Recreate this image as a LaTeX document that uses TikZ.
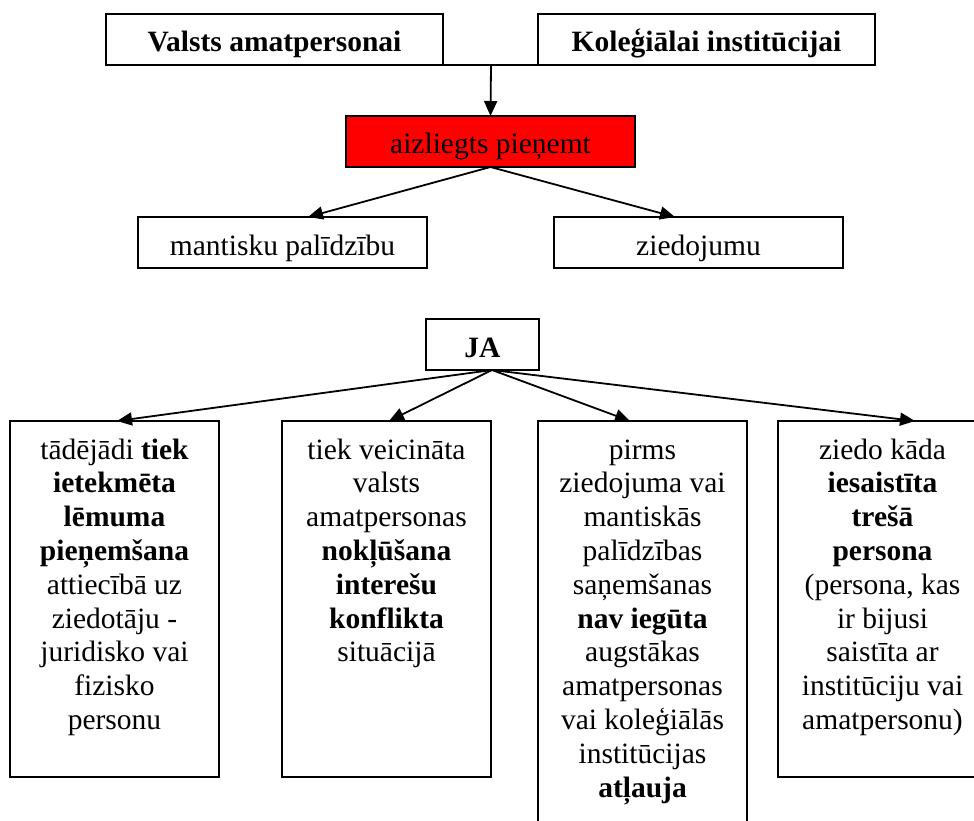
\documentclass[tikz,border=0pt]{standalone}
\usepackage{fontspec}
\setmainfont{Liberation Serif}
\usetikzlibrary{arrows.meta}
\begin{document}
\begin{tikzpicture}[x=1pt,y=-1pt,
  box/.style={draw, line width=1.8pt, inner sep=0pt, outer sep=0pt, text height=30pt, text depth=5pt, font=\fontsize{29.5}{34}\selectfont},
  redbox/.style={box, fill=red},
  tallbox/.style={draw, line width=1.8pt, inner sep=0pt, outer sep=0pt, anchor=north west, font=\fontsize{29.5}{33.8}\selectfont},
  link/.style={line width=1.8pt},
  conn/.style={line width=1.8pt, -{Triangle[length=15pt,width=13pt]}}]
\useasboundingbox (0,0) rectangle (974,821);
\clip (0,0) rectangle (974,821);
% top row
\node[box, minimum width=337pt, minimum height=51pt] (vp) at (274.5,39.5) {\textbf{Valsts amatpersonai}};
\node[box, minimum width=337pt, minimum height=51pt] (ki) at (706.5,39.5) {\textbf{Koleģiālai institūcijai}};
\node[redbox, minimum width=289pt, minimum height=51pt] (ap) at (490.5,141.5) {aizliegts pieņemt};
\node[box, minimum width=289pt, minimum height=51pt] (mp) at (282.5,242.5) {mantisku palīdzību};
\node[box, minimum width=289pt, minimum height=51pt] (zd) at (698.5,242.5) {ziedojumu};
\coordinate (m) at (491,65);
\draw[link] (vp.south east) -- (ki.south west);
\draw[conn] (m) -- (ap.north);
\draw[conn] (ap.south) -- ([xshift=25.5pt]mp.north);
\draw[conn] (ap.south) -- ([xshift=-23.5pt]zd.north);
% JA
\node[box, minimum width=113pt, minimum height=51pt] (ja) at (482.5,344.5) {\textbf{JA}};
\node[tallbox] (c1) at (10,421) {\parbox[t][356pt][t]{209pt}{\centering\rule{0pt}{38pt}tādējādi \textbf{tiek}\\ \textbf{ietekmēta}\\ \textbf{lēmuma}\\ \textbf{pieņemšana}\\ attiecībā uz\\ ziedotāju -\\ juridisko vai\\ fizisko\\ personu}};
\node[tallbox] (c2) at (282,421) {\parbox[t][356pt][t]{209pt}{\centering\rule{0pt}{38pt}tiek veicināta\\ valsts\\ amatpersonas\\ \textbf{nokļūšana}\\ \textbf{interešu}\\ \textbf{konflikta}\\ situācijā}};
\node[tallbox] (c3) at (538,421) {\parbox[t][430pt][t]{209pt}{\centering\rule{0pt}{38pt}pirms\\ ziedojuma vai\\ mantiskās\\ palīdzības\\ saņemšanas\\ \textbf{nav iegūta}\\ augstākas\\ amatpersonas\\ vai koleģiālās\\ institūcijas\\ \textbf{atļauja}}};
\node[tallbox] (c4) at (778,421) {\parbox[t][356pt][t]{209pt}{\centering\rule{0pt}{38pt}ziedo kāda\\ \textbf{iesaistīta}\\ \textbf{trešā}\\ \textbf{persona}\\ (persona, kas\\ ir bijusi\\ saistīta ar\\ institūciju vai\\ amatpersonu)}};
\draw[conn] ([xshift=9.5pt]ja.south) -- ([xshift=2.5pt]c1.north);
\draw[conn] ([xshift=9.5pt]ja.south) -- ([xshift=2.5pt]c2.north);
\draw[conn] ([xshift=9.5pt]ja.south) -- ([xshift=-12.5pt]c3.north);
\draw[conn] ([xshift=9.5pt]ja.south) -- ([xshift=32.5pt]c4.north);
\end{tikzpicture}
\end{document}
